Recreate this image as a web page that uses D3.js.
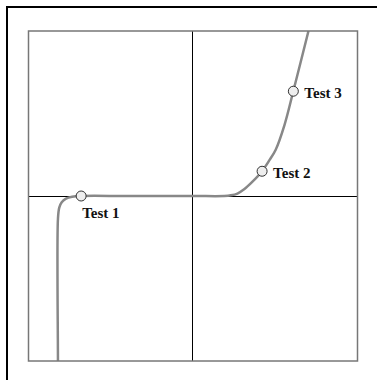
<!DOCTYPE html>
<html>
<head>
<meta charset="utf-8">
<script src="https://cdn.jsdelivr.net/npm/d3@7"></script>
<style>
body { margin: 0; background: #fff; }
svg { display: block; }
.label { font-family: "Liberation Serif", serif; font-weight: bold; font-size: 15px; fill: #111; }
</style>
</head>
<body>
<script>
// curve, in data units (axes cross at 0,0)
var curveX = [-8.21, -8.21, -8.21, -8.13, -7.98, -7.72, -7.35, -6.8, -4, 0, 1.9, 2.3, 2.7, 3.13, 3.6, 4.2, 4.6, 5.02, 5.56, 6.1, 7.02];
var curveY = [-12, -10, -1.4, -0.7, -0.38, -0.16, -0.05, 0, 0, 0, 0, 0.04, 0.15, 0.42, 0.85, 1.5, 2.1, 2.79, 4.3, 6.36, 10];

var testNames = ['Test 1', 'Test 2', 'Test 3'];
var testX = [-6.8, 4.2, 6.1];
var testY = [0, 1.5, 6.35];
var labelSide = ['below', 'right', 'right'];

var width = 377, height = 380;
var box = {left: 28.5, top: 31, right: 357.5, bottom: 361};

var svg = d3.select("body").append("svg")
	.attr("width", width)
	.attr("height", height);

// outer frame, runs off the window on right and bottom
svg.append("rect")
	.attr("x", 7)
	.attr("y", 7)
	.attr("width", 500)
	.attr("height", 500)
	.attr("fill", "none")
	.attr("stroke", "#000")
	.attr("stroke-width", 2);

var x = d3.scaleLinear().domain([-10, 10]).range([box.left, box.right]);
var y = d3.scaleLinear().domain([-10, 10]).range([box.bottom, box.top]);

svg.append("clipPath").attr("id", "clip")
	.append("rect")
	.attr("x", box.left)
	.attr("y", box.top)
	.attr("width", box.right - box.left)
	.attr("height", box.bottom - box.top);

// cross axes
svg.append("line")
	.attr("x1", x(0) - 0.5).attr("x2", x(0) - 0.5)
	.attr("y1", box.top).attr("y2", box.bottom)
	.attr("stroke", "#000").attr("stroke-width", 1);
svg.append("line")
	.attr("x1", box.left).attr("x2", box.right)
	.attr("y1", y(0) + 0.5).attr("y2", y(0) + 0.5)
	.attr("stroke", "#000").attr("stroke-width", 1);

var line = d3.line()
	.x(function(d, i) { return x(curveX[i]); })
	.y(function(d, i) { return y(curveY[i]); })
	.curve(d3.curveCatmullRom.alpha(0.5));

svg.append("path")
	.attr("clip-path", "url(#clip)")
	.attr("d", line(curveX))
	.attr("fill", "none")
	.attr("stroke", "#888")
	.attr("stroke-width", 2.5);

// inner frame
svg.append("rect")
	.attr("x", box.left)
	.attr("y", box.top)
	.attr("width", box.right - box.left)
	.attr("height", box.bottom - box.top)
	.attr("fill", "none")
	.attr("stroke", "#777")
	.attr("stroke-width", 1.5);

var tests = svg.selectAll(".test").data(testNames).enter().append("g")
	.attr("class", "test")
	.attr("transform", function(d, i) { return "translate(" + x(testX[i]) + "," + y(testY[i]) + ")"; });

tests.append("circle")
	.attr("r", 5)
	.attr("fill", "#eee")
	.attr("stroke", "#333")
	.attr("stroke-width", 1);

tests.append("text")
	.attr("class", "label")
	.attr("x", function(d, i) { return labelSide[i] == 'below' ? 1 : 11; })
	.attr("y", function(d, i) { return labelSide[i] == 'below' ? 22 : 7; })
	.text(function(d) { return d; });
</script>
</body>
</html>
